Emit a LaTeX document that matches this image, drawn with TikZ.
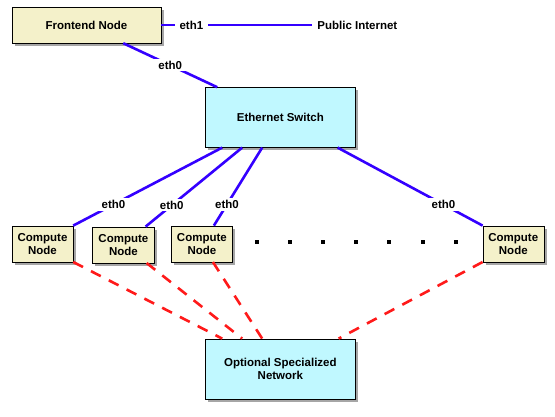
\documentclass[tikz,border=0pt]{standalone}
\usepackage{fontspec}
\setmainfont{Liberation Sans}
\usepackage{tikz}
\usetikzlibrary{positioning,shadows}
\definecolor{hostgelb}{RGB}{244,241,202}
\definecolor{netzcyan}{RGB}{192,248,255}
\definecolor{lanblau}{RGB}{52,0,255}
\definecolor{hpcrot}{RGB}{255,26,26}
\tikzstyle{schrift}=[font=\fontsize{11.5}{13.5}\selectfont\bfseries]
\tikzstyle{host}=[rectangle,draw=black,thin,fill=hostgelb,inner sep=0pt,align=center,schrift,
  drop shadow={shadow xshift=3pt,shadow yshift=-3pt,fill=black,opacity=0.35}]
\tikzstyle{netbox}=[host,fill=netzcyan,minimum width=150pt,minimum height=60pt]
\tikzstyle{rechner}=[host,minimum width=61pt,minimum height=36pt]
\tikzstyle{lan}=[draw=lanblau,line width=2.6pt]
\tikzstyle{hpc}=[draw=hpcrot,line width=2.6pt,dash pattern=on 11pt off 9pt]
\tikzstyle{iface}=[fill=white,inner xsep=5pt,inner ysep=2pt,schrift]
\tikzstyle{dotmark}=[rectangle,fill=black,inner sep=0pt,minimum size=4pt]

\begin{document}
\begin{tikzpicture}
    \useasboundingbox (0,0) rectangle (555pt,-416pt);

    % Knoten
    \node[host, minimum width=149pt, minimum height=36pt] (fe) at (86.5pt,-25pt) {Frontend Node};
    \node[schrift, inner sep=0pt] (inet) [right=156pt of fe] {Public Internet};
    \node[netbox] (sw) [below right=44pt and 44pt of fe.south east] {Ethernet Switch};
    \node[netbox] (net) [below=191pt of sw] {Optional Specialized\\Network};
    \node[rechner] (c1) [below left=78pt and 132pt of sw.south west] {Compute\\Node};
    \node[rechner, minimum width=62pt, yshift=-1pt] (c2) [right=19pt of c1] {Compute\\Node};
    \node[rechner] (c3) [right=18pt of c1, xshift=80pt] {Compute\\Node};
    \node[rechner] (c4) [below right=78pt and 127pt of sw.south east] {Compute\\Node};
    \foreach \i in {0,...,6}
        \node[dotmark] (d\i) at ([xshift=24pt+\i*33.2pt, yshift=2pt]c3.east) {};

    % Ethernet
    \draw[lan] (fe.east) to node[iface, pos=0.2] {eth1} ([xshift=-5pt]inet.west);
    \draw[lan] ([xshift=-38pt]fe.south east) to node[iface] {eth0} ([xshift=12pt]sw.north west);
    \draw[lan] ([xshift=17pt]sw.south west) to node[iface, pos=0.73] {eth0} (c1.north east);
    \draw[lan] ([xshift=37pt]sw.south west) to node[iface, pos=0.73] {eth0} ([xshift=-9pt]c2.north east);
    \draw[lan] ([xshift=57pt]sw.south west) to node[iface, pos=0.73] {eth0} ([xshift=12pt]c3.north);
    \draw[lan] ([xshift=-18pt]sw.south east) to node[iface, pos=0.73] {eth0} (c4.north west);

    % Spezialnetz
    \draw[hpc] (c1.south east) to ([xshift=17pt]net.north west);
    \draw[hpc] ([xshift=-8pt]c2.south east) to ([xshift=37pt]net.north west);
    \draw[hpc] ([xshift=11pt]c3.south) to ([xshift=57pt]net.north west);
    \draw[hpc] (c4.south west) to ([xshift=-17pt]net.north east);

\end{tikzpicture}
\end{document}
